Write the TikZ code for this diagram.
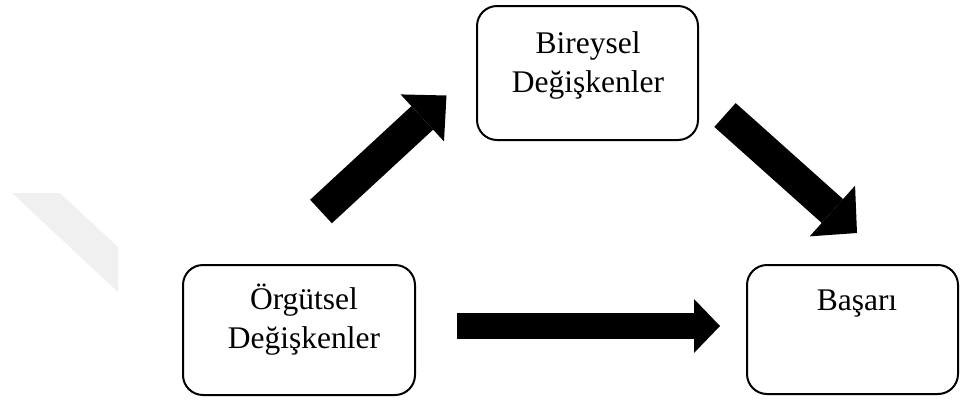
\documentclass[tikz,border=0pt]{standalone}
\usepackage{fontspec}
\setmainfont{Liberation Serif}
\usetikzlibrary{arrows.meta}

\tikzset{
  varbox/.style={draw=black, line width=2pt, rounded corners=20pt,
    inner sep=0pt, fill=white},
  boxtext/.style={inner sep=0pt, align=center, anchor=base,
    font=\fontsize{31.5}{39}\selectfont},
  blockarrow/.style={line width=#1, line cap=butt},
}

\begin{document}
\begin{tikzpicture}[x=1pt, y=-1pt]
  \useasboundingbox (0,0) rectangle (961,400);

  % faint band at the left edge
  \fill[black!6] (12,193) -- (60,193) -- (118,247) -- (118,292) -- cycle;

  % boxes
  \node[varbox, minimum width=221pt, minimum height=134pt] (birey) at (587.5,73) {};
  \node[varbox, minimum width=232pt, minimum height=130pt] (orgut) at (299,330) {};
  \node[varbox, minimum width=211pt, minimum height=129pt] (basari) at (852.5,329.5) {};

  % box labels (base anchor sits on the last line)
  \node[boxtext] (tbirey) at (588,92) {Bireysel\\Değişkenler};
  \node[boxtext] (torgut) at (304,348) {Örgütsel\\Değişkenler};
  \node[boxtext] (tbasari) at (857,310) {Başarı};

  % arrow end points
  \coordinate (a1s) at (321,211.5);
  \coordinate (a1e) at (446.5,95.5);
  \coordinate (a2s) at (725,115);
  \coordinate (a2e) at (857,233);
  \coordinate (a3s) at (457,326);
  \coordinate (a3e) at (720,326);

  % block arrows
  \draw[blockarrow=32pt, -{Triangle[length=33pt, width=64pt, line width=0pt]}] (a1s) -- (a1e);
  \draw[blockarrow=32pt, -{Triangle[length=33pt, width=68pt, line width=0pt]}] (a2s) -- (a2e);
  \draw[blockarrow=26pt, -{Triangle[length=26pt, width=54pt, line width=0pt]}] (a3s) -- (a3e);
\end{tikzpicture}
\end{document}
